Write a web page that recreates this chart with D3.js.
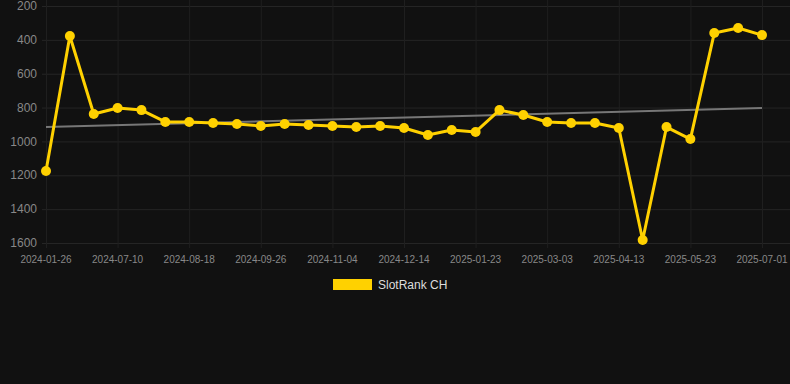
<!DOCTYPE html>
<html>
<head>
<meta charset="utf-8">
<script src="https://cdn.jsdelivr.net/npm/d3@7"></script>
<style>
  body { margin: 0; background: #111111; }
  svg { display: block; font-family: "Liberation Sans", Arial, sans-serif; }
</style>
</head>
<body>
<div id="chart"></div>
<script>
// Data
const dates = [
    "2024-01-26", "2024-06-14", "2024-06-27", "2024-07-10", "2024-07-23", "2024-08-05",
    "2024-08-18", "2024-08-31", "2024-09-13", "2024-09-26", "2024-10-09", "2024-10-22",
    "2024-11-04", "2024-11-17", "2024-11-30", "2024-12-14", "2024-12-27", "2025-01-10",
    "2025-01-23", "2025-02-05", "2025-02-18", "2025-03-03", "2025-03-16", "2025-03-29",
    "2025-04-13", "2025-04-26", "2025-05-09", "2025-05-23", "2025-06-05", "2025-06-18",
    "2025-07-01"
];
const ranks = [
    1175, 377, 838, 803, 815, 885,
    885, 891, 897, 909, 897, 903,
    909, 915, 909, 921, 962, 933,
    944, 815, 844, 885, 891, 891,
    921, 1582, 915, 986, 360, 330,
    372
];
const trend = [915, 803];           // trend line, first and last point
const yTicks = [200, 400, 600, 800, 1000, 1200, 1400, 1600];
const seriesName = "SlotRank CH";

const width = 790;
const height = 384;
const margin = { top: 6, right: 28, bottom: 141, left: 46 };

const svg = d3.select("#chart")
    .append("svg")
    .attr("width", width)
    .attr("height", height);

const x = d3.scalePoint()
    .domain(dates)
    .range([margin.left, width - margin.right]);

const y = d3.scaleLinear()
    .domain([200, 1600])
    .range([margin.top, height - margin.bottom]);

const tickDates = dates.filter((d, i) => i % 3 === 0);

// Grid
svg.append("g")
    .selectAll("line")
    .data(yTicks)
    .enter().append("line")
    .attr("x1", 42)
    .attr("x2", width)
    .attr("y1", d => y(d) + 0.5)
    .attr("y2", d => y(d) + 0.5)
    .attr("stroke", "#252525");

svg.append("g")
    .selectAll("line")
    .data(tickDates)
    .enter().append("line")
    .attr("x1", d => x(d) + 0.5)
    .attr("x2", d => x(d) + 0.5)
    .attr("y1", 0)
    .attr("y2", y(1600) + 5)
    .attr("stroke", "#1f1f1f");

// Y labels
svg.append("g")
    .selectAll("text")
    .data(yTicks)
    .enter().append("text")
    .attr("x", 37)
    .attr("y", d => y(d))
    .attr("dy", "0.35em")
    .attr("text-anchor", "end")
    .attr("font-size", 12)
    .attr("fill", "#888")
    .text(d => d);

// X labels
svg.append("g")
    .selectAll("text")
    .data(tickDates)
    .enter().append("text")
    .attr("x", d => x(d))
    .attr("y", y(1600) + 16)
    .attr("dy", "0.35em")
    .attr("text-anchor", "middle")
    .attr("font-size", 10)
    .attr("fill", "#888")
    .text(d => d);

// Trend line
svg.append("line")
    .attr("x1", x(dates[0]))
    .attr("x2", x(dates[dates.length - 1]))
    .attr("y1", y(trend[0]))
    .attr("y2", y(trend[1]))
    .attr("stroke", "#777")
    .attr("stroke-width", 2);

// Series line
const line = d3.line()
    .x((d, i) => x(dates[i]))
    .y(d => y(d));

svg.append("path")
    .datum(ranks)
    .attr("d", line)
    .attr("fill", "none")
    .attr("stroke", "#FFD100")
    .attr("stroke-width", 3)
    .attr("stroke-linejoin", "round");

svg.append("g")
    .selectAll("circle")
    .data(ranks)
    .enter().append("circle")
    .attr("cx", (d, i) => x(dates[i]))
    .attr("cy", d => y(d))
    .attr("r", 5)
    .attr("fill", "#FFD100");

// Legend
const legend = svg.append("g");
legend.append("rect")
    .attr("x", 333)
    .attr("y", 279)
    .attr("width", 39)
    .attr("height", 11)
    .attr("fill", "#FFD100");
legend.append("text")
    .attr("x", 378)
    .attr("y", 285)
    .attr("dy", "0.35em")
    .attr("font-size", 12)
    .attr("fill", "#ddd")
    .text(seriesName);
</script>
</body>
</html>
